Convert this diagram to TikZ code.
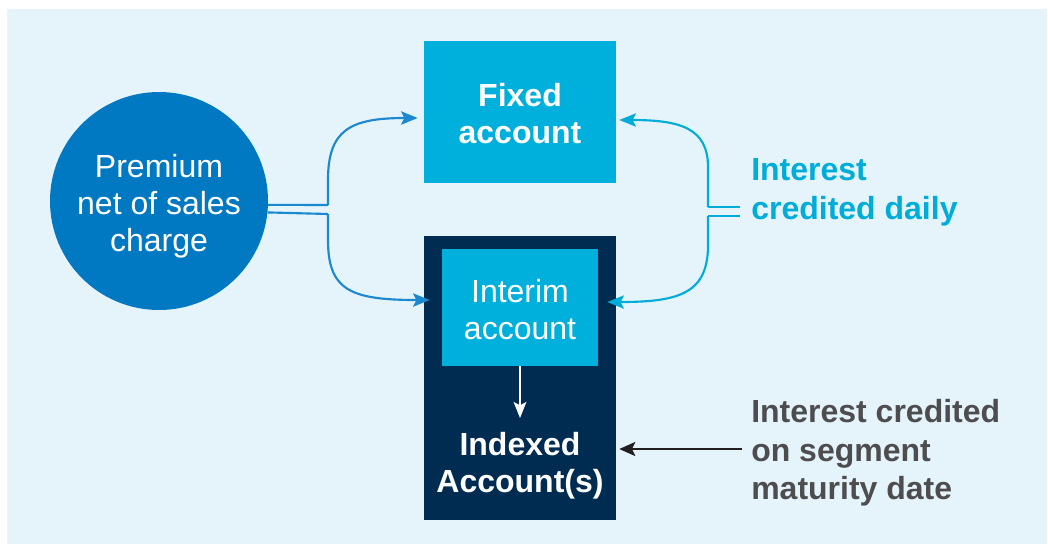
\documentclass[tikz,border=0pt]{standalone}
\usepackage{fontspec}
\setmainfont{Liberation Sans}
\usetikzlibrary{arrows.meta}
\definecolor{bgc}{HTML}{E5F4FA}
\definecolor{circc}{HTML}{0079C2}
\definecolor{boxc}{HTML}{00B0DC}
\definecolor{darkc}{HTML}{002C52}
\definecolor{leftc}{HTML}{1B88CF}
\definecolor{rightc}{HTML}{00ADD8}
\definecolor{grayc}{HTML}{4D4D4F}
\definecolor{blackc}{HTML}{231F20}
\tikzset{
  txt/.style={font=\fontsize{24}{27.75}\selectfont, align=center, text=white, inner sep=0pt},
  btxt/.style={font=\fontsize{24}{28}\selectfont\bfseries, align=center, text=white, inner sep=0pt},
  lbl/.style={font=\fontsize{24}{29}\selectfont\bfseries, align=left, inner sep=0pt, anchor=west},
  conn/.style={line width=1.6pt, -{Stealth[length=12.5pt,width=10pt,inset=2.5pt]}},
  plain/.style={line width=1.6pt},
}
\begin{document}
\begin{tikzpicture}[x=0.75pt,y=-0.75pt]
\useasboundingbox (0,0) rectangle (1048,544);
\fill[bgc] (7,9) rectangle (1047,544);

% nodes
\node[circle, fill=circc, minimum size=163.5pt, inner sep=0pt] (prem) at (159,201) {};
\node[txt] (premt) at (159,206) {Premium\\net of sales\\charge};

\node[fill=boxc, minimum width=144pt, minimum height=106.5pt, inner sep=0pt] (fixed) at (520,112) {};
\node[btxt] (fixedt) at (520,113.5) {Fixed\\account};

\node[fill=darkc, minimum width=144pt, minimum height=213pt, inner sep=0pt] (idx) at (520,378) {};
\node[fill=boxc, minimum width=117pt, minimum height=87.75pt, inner sep=0pt] (interim) at (520,307.5) {};
\node[txt] (interimt) at (520,309.5) {Interim\\account};
\node[btxt] (indexed) at (520,465.5) {Indexed\\Account(s)};

\node[lbl, text=rightc] (daily) at (751,192.5) {Interest\\credited daily};
\node[lbl, text=grayc] (mat) at (751,453) {Interest credited\\on segment\\maturity date};

% left connectors
\draw[plain, leftc] (prem.-2.1) -- (328,205);
\draw[plain, leftc] (prem.-6.85) -- (328,214);
\draw[conn, leftc, shorten >=4.5pt] (328,205) -- (328,180) .. controls (328,130) and (350,118) .. ([yshift=-4.5pt]fixed.west);
\draw[conn, leftc, shorten >=9pt] (328,214) -- (328,240) .. controls (328,290) and (350,300) .. ([yshift=5.6pt]interim.west);

% right connectors
\coordinate (r1) at (740,207);
\coordinate (r2) at (740,216);
\draw[plain, rightc] (r1) -- (708,207);
\draw[plain, rightc] (r2) -- (708,216);
\draw[conn, rightc, shorten >=2.25pt] (708,207) -- (708,167) .. controls (708,128) and (680,120) .. ([yshift=-6pt]fixed.east);
\draw[conn, rightc, shorten >=6.75pt] (708,216) -- (708,245) .. controls (708,293) and (680,302) .. ([yshift=4.1pt]interim.east);

% inner arrow
\draw[line width=1.5pt, white, -{Stealth[length=12pt,width=9.5pt,inset=2.5pt]}] (interim.south) -- (520,418);

% maturity arrow
\draw[line width=1.5pt, blackc, -{Stealth[length=12pt,width=10.5pt,inset=2.5pt]}, shorten >=2.25pt] ([xshift=-6.75pt,yshift=3pt]mat.west) -- (idx.east |- 0,449);
\end{tikzpicture}
\end{document}
